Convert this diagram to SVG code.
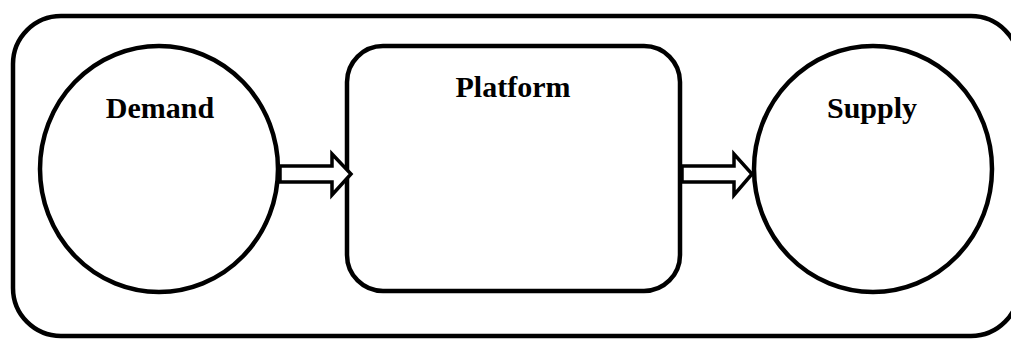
<svg xmlns="http://www.w3.org/2000/svg" width="1011" height="339" viewBox="0 0 1011 339">
<style>
.s{fill:#fff;stroke:#000;stroke-width:4.5}
.a{fill:#fff;stroke:#000;stroke-width:3.5;stroke-linejoin:miter}
.t{font-family:"Liberation Serif",serif;font-weight:bold;font-size:30px;text-anchor:middle;fill:#000}
</style>
<rect width="1011" height="339" fill="#fff"/>
<g id="frame"><rect class="s" x="13" y="16" width="1006" height="320" rx="48"/></g>
<g id="demand"><ellipse class="s" cx="159" cy="169" rx="119" ry="123"/><text class="t" x="160" y="118">Demand</text></g>
<g id="platform"><rect class="s" x="347" y="46" width="333" height="245" rx="36"/><text class="t" x="513" y="97">Platform</text></g>
<g id="supply"><ellipse class="s" cx="873" cy="169" rx="119" ry="123"/><text class="t" x="872" y="118">Supply</text></g>
<g id="connectors">
<polygon class="a" points="280,166 332,166 332,154 351,174 332,195 332,182 280,182"/>
<polygon class="a" points="682,166 734,166 734,154 752,174 734,195 734,182 682,182"/>
</g>
</svg>
